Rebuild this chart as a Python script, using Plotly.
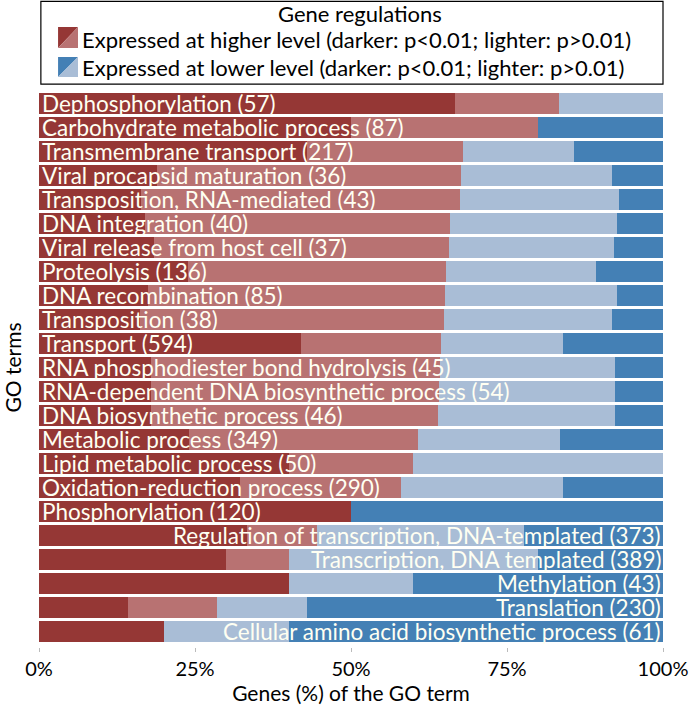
import plotly.graph_objects as go

# GO terms, top to bottom
terms = [
    "Dephosphorylation", "Carbohydrate metabolic process", "Transmembrane transport",
    "Viral procapsid maturation", "Transposition, RNA-mediated", "DNA integration",
    "Viral release from host cell", "Proteolysis", "DNA recombination", "Transposition",
    "Transport", "RNA phosphodiester bond hydrolysis", "RNA-dependent DNA biosynthetic process",
    "DNA biosynthetic process", "Metabolic process", "Lipid metabolic process",
    "Oxidation-reduction process", "Phosphorylation", "Regulation of transcription, DNA-templated",
    "Transcription, DNA templated", "Methylation", "Translation",
    "Cellular amino acid biosynthetic process",
]
gene_counts = [57, 87, 217, 36, 43, 40, 37, 136, 85, 38, 594, 45, 54, 46, 349, 50, 290, 120,
               373, 389, 43, 230, 61]

# percentages of genes in each group
higher_sig = [66.7, 50.0, 43.0, 18.9, 16.4, 17.0, 18.4, 23.8, 17.5, 16.2, 42.0, 17.9, 17.9,
              17.9, 24.0, 40.0, 32.2, 50.0, 33.3, 30.0, 40.0, 14.2, 20.0]
higher_ns = [16.7, 30.0, 24.9, 48.7, 51.0, 48.9, 47.3, 41.4, 47.6, 48.7, 22.5, 46.3, 46.2,
             46.1, 36.7, 20.0, 25.8, 0.0, 11.2, 10.0, 0.0, 14.3, 0.0]
lower_ns = [16.6, 0.0, 17.9, 24.3, 25.6, 26.8, 26.4, 24.0, 27.5, 27.0, 19.4, 28.1, 28.2,
            28.3, 22.8, 40.0, 25.9, 0.0, 33.3, 40.0, 20.0, 14.4, 20.0]
lower_sig = [0.0, 20.0, 14.2, 8.1, 7.0, 7.3, 7.9, 10.8, 7.4, 8.1, 16.1, 7.7, 7.7, 7.7, 16.5,
             0.0, 16.1, 50.0, 22.2, 20.0, 40.0, 57.1, 60.0]

right_labeled = terms[18:]

colors = {
    "higher_sig": "#953735",
    "higher_ns": "#B87272",
    "lower_ns": "#A9BDD6",
    "lower_sig": "#4480B5",
}

font = "Lato, Carlito, Calibri, sans-serif"

fig = go.Figure()
for key, vals in [("higher_sig", higher_sig), ("higher_ns", higher_ns),
                  ("lower_ns", lower_ns), ("lower_sig", lower_sig)]:
    fig.add_trace(go.Bar(
        y=terms, x=vals, orientation="h", name=key,
        marker=dict(color=colors[key], line=dict(width=0)),
        showlegend=False, hoverinfo="x+y",
    ))

# labels inside bars
for term, n in zip(terms, gene_counts):
    right = term in right_labeled
    fig.add_annotation(
        x=100 if right else 0, y=term, xref="x", yref="y",
        text=f"{term} ({n})", showarrow=False,
        xanchor="right" if right else "left", yanchor="middle",
        xshift=0 if right else 1,
        font=dict(family=font, size=22.5, color="#FFFFF2"),
    )

# hand-made legend box above the plot
fig.add_shape(type="rect", xref="paper", yref="paper", x0=0.003, x1=1.0, y0=1.007, y1=1.155,
              line=dict(color="black", width=1.2), fillcolor="white")

icon_x0, icon_x1 = 0.0305, 0.0625
for (y0, y1), dark, light in [((1.0716, 1.109), colors["higher_sig"], colors["higher_ns"]),
                              ((1.0197, 1.0555), colors["lower_sig"], colors["lower_ns"])]:
    fig.add_shape(type="path", xref="paper", yref="paper",
                  path=f"M {icon_x0},{y1} L {icon_x1},{y1} L {icon_x0},{y0} Z",
                  fillcolor=dark, line=dict(width=0))
    fig.add_shape(type="path", xref="paper", yref="paper",
                  path=f"M {icon_x1},{y1} L {icon_x1},{y0} L {icon_x0},{y0} Z",
                  fillcolor=light, line=dict(width=0))

legend_font = dict(family=font, size=22, color="black")
fig.add_annotation(x=0.514, y=1.1324, xref="paper", yref="paper", text="Gene regulations",
                   xanchor="center", yanchor="middle", showarrow=False, font=legend_font)
fig.add_annotation(x=0.066, y=1.0859, xref="paper", yref="paper", xanchor="left",
                   yanchor="middle",
                   text="Expressed at higher level (darker: p<0.01; lighter: p>0.01)",
                   showarrow=False, font=legend_font)
fig.add_annotation(x=0.066, y=1.0358, xref="paper", yref="paper", xanchor="left",
                   yanchor="middle",
                   text="Expressed at lower level (darker: p<0.01; lighter: p>0.01)",
                   showarrow=False, font=legend_font)

fig.update_layout(
    barmode="stack", bargap=0.09,
    width=689, height=707,
    margin=dict(l=39, r=26, t=88, b=60),
    plot_bgcolor="white", paper_bgcolor="white",
    font=dict(family=font, size=18, color="black"),
)
fig.update_xaxes(range=[0, 100], tickvals=[0, 25, 50, 75, 100],
                 ticktext=["0%", "25%", "50%", "75%", "100%"],
                 ticks="outside", ticklen=4, tickcolor="#bbbbbb", showgrid=False,
                 zeroline=False, automargin=False,
                 title=dict(text="Genes (%) of the GO term", standoff=4,
                            font=dict(family=font, size=21, color="black")),
                 tickfont=dict(family=font, size=20, color="black"))
fig.update_yaxes(autorange="reversed", showticklabels=False, showgrid=False, ticks="",
                 automargin=False,
                 title=dict(text="GO terms", font=dict(family=font, size=21, color="black"),
                            standoff=15))

# page body has a default 8px margin; drop it so the figure fills the window
fig.write_html("out.html", config={"displayModeBar": False},
               post_script="document.body.style.margin='0';")
